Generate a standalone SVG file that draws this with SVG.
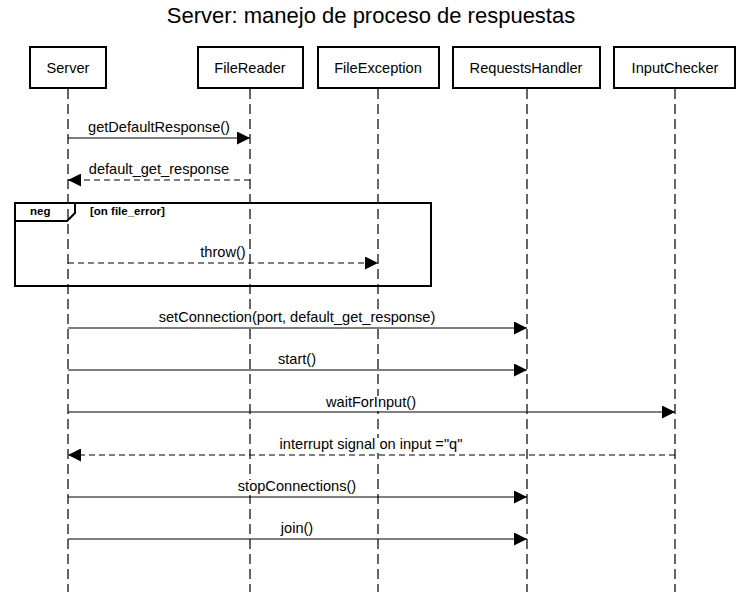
<svg xmlns="http://www.w3.org/2000/svg" width="742" height="592" viewBox="0 0 742 592">
<defs>
<style>
text{font-family:"Liberation Sans",Arial,sans-serif;fill:#000}
.title{font-size:22px}
.box{fill:#fff;stroke:#000;stroke-width:2}
.nl{font-size:14.6px;text-anchor:middle}
.life{stroke:#000;stroke-width:1.2;stroke-dasharray:10,5;fill:none}
.msg{stroke:#000;stroke-width:1.2;fill:none}
.ret{stroke:#000;stroke-width:1.2;fill:none;stroke-dasharray:6,4}
.ml{font-size:14.6px;text-anchor:middle}
.bg{fill:#fff}
.frame{fill:none;stroke:#000;stroke-width:2}
.fl{font-size:11.5px;font-weight:bold}
</style>
<marker id="ah" markerWidth="13" markerHeight="13" refX="13" refY="6.5" orient="auto" markerUnits="userSpaceOnUse">
<path d="M0,0 L13,6.5 L0,13 Z" fill="#000"/>
</marker>
</defs>
<rect width="742" height="592" fill="#fff"/>
<text class="title" x="371" y="23" text-anchor="middle">Server: manejo de proceso de respuestas</text>
<g id="lifelines">
<line class="life" x1="68" y1="89" x2="68" y2="592"/>
<line class="life" x1="250" y1="89" x2="250" y2="592"/>
<line class="life" x1="378" y1="89" x2="378" y2="592"/>
<line class="life" x1="527" y1="89" x2="527" y2="592"/>
<line class="life" x1="675" y1="89" x2="675" y2="592"/>
</g>
<g id="Server"><rect class="box" x="30" y="47" width="76" height="41"/><text class="nl" x="68" y="73">Server</text></g>
<g id="FileReader"><rect class="box" x="198" y="47" width="105" height="41"/><text class="nl" x="250" y="73">FileReader</text></g>
<g id="FileException"><rect class="box" x="318" y="47" width="121" height="41"/><text class="nl" x="378" y="73">FileException</text></g>
<g id="RequestsHandler"><rect class="box" x="453" y="47" width="147" height="41"/><text class="nl" x="526" y="73">RequestsHandler</text></g>
<g id="InputChecker"><rect class="box" x="614" y="47" width="121" height="41"/><text class="nl" x="675" y="73">InputChecker</text></g>
<g id="frame-neg">
<rect class="frame" x="15" y="203" width="416" height="83"/>
<path d="M15,221 L67,221 L75,213 L75,203" fill="none" stroke="#000" stroke-width="2"/>
<text class="fl" x="30" y="215">neg</text>
<text class="fl" x="90" y="215">[on file_error]</text>
</g>
<g id="connectors">
<line class="msg" x1="68" y1="138" x2="250" y2="138" marker-end="url(#ah)"/>
<rect class="bg" x="87" y="121" width="144" height="15"/>
<text class="ml" x="159" y="132">getDefaultResponse()</text>
<line class="ret" x1="250" y1="180" x2="68" y2="180" marker-end="url(#ah)"/>
<rect class="bg" x="88" y="163" width="142" height="15"/>
<text class="ml" x="159" y="174">default_get_response</text>
<line class="ret" x1="68" y1="263" x2="378" y2="263" marker-end="url(#ah)"/>
<rect class="bg" x="199" y="246" width="47" height="15"/>
<text class="ml" x="223" y="257">throw()</text>
<line class="msg" x1="68" y1="328" x2="527" y2="328" marker-end="url(#ah)"/>
<rect class="bg" x="157" y="311" width="280" height="15"/>
<text class="ml" x="297" y="322">setConnection(port, default_get_response)</text>
<line class="msg" x1="68" y1="370" x2="527" y2="370" marker-end="url(#ah)"/>
<rect class="bg" x="277" y="353" width="40" height="15"/>
<text class="ml" x="297" y="364">start()</text>
<line class="msg" x1="68" y1="412" x2="675" y2="412" marker-end="url(#ah)"/>
<rect class="bg" x="325" y="396" width="92" height="15"/>
<text class="ml" x="371" y="407">waitForInput()</text>
<line class="ret" x1="675" y1="455" x2="68" y2="455" marker-end="url(#ah)"/>
<rect class="bg" x="278" y="438" width="186" height="15"/>
<text class="ml" x="371" y="449">interrupt signal on input ="q"</text>
<line class="msg" x1="68" y1="497" x2="527" y2="497" marker-end="url(#ah)"/>
<rect class="bg" x="237" y="480" width="120" height="15"/>
<text class="ml" x="297" y="491">stopConnections()</text>
<line class="msg" x1="68" y1="539" x2="527" y2="539" marker-end="url(#ah)"/>
<rect class="bg" x="280" y="522" width="34" height="15"/>
<text class="ml" x="297" y="533">join()</text>
</g>
</svg>
